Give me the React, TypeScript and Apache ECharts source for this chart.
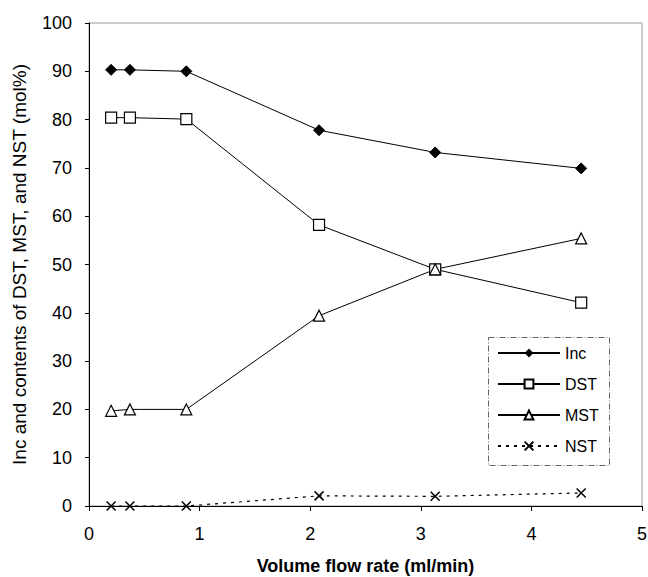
import React, { useEffect, useRef } from "react";
import * as echarts from "echarts";

const flowRates = [0.2, 0.37, 0.88, 2.08, 3.13, 4.45];
const incValues = [90.3, 90.3, 90.0, 77.8, 73.2, 69.9];
const dstValues = [80.4, 80.4, 80.1, 58.2, 49.0, 42.1];
const mstValues = [19.7, 20.0, 20.0, 39.4, 49.0, 55.4];
const nstValues = [0.0, 0.0, 0.0, 2.1, 2.0, 2.7];
const xTicks = { min: 0, max: 5, interval: 1 };
const yTicks = { min: 0, max: 100, interval: 10 };

const FONT = "Arial, 'Liberation Sans', Helvetica, sans-serif";
const X_SYMBOL = "path://M0,0L10,10M10,0L0,10";

function pairs(ys: number[]) {
  return flowRates.map((x, i) => [x, ys[i]]);
}

export default function App() {
  const ref = useRef<HTMLDivElement>(null);
  useEffect(() => {
    if (!ref.current) return;
    const chart = echarts.init(ref.current, undefined, { renderer: "svg" });
    const lineBase = { color: "#000", width: 1 };
    chart.setOption({
      animation: false,
      backgroundColor: "#fff",
      grid: {
        left: 89,
        right: 6,
        top: 23,
        bottom: 71,
        show: true,
        borderColor: "#999",
        borderWidth: 1,
        outerBoundsMode: "none",
        containLabel: false,
      },
      xAxis: {
        type: "value",
        min: xTicks.min,
        max: xTicks.max,
        interval: xTicks.interval,
        name: "Volume flow rate (ml/min)",
        nameLocation: "middle",
        nameGap: 51,
        nameTextStyle: {
          fontFamily: FONT,
          fontSize: 18,
          fontWeight: "bold",
          color: "#000",
        },
        axisLine: { lineStyle: { color: "#000", width: 1 } },
        axisTick: { inside: false, length: 5, lineStyle: { color: "#000" } },
        axisLabel: { fontFamily: FONT, fontSize: 18, color: "#000", margin: 19 },
        splitLine: { show: false },
      },
      yAxis: {
        type: "value",
        min: yTicks.min,
        max: yTicks.max,
        interval: yTicks.interval,
        name: "Inc and contents of DST, MST, and NST (mol%)",
        nameLocation: "middle",
        nameGap: 60,
        nameTextStyle: {
          fontFamily: FONT,
          fontSize: 19,
          color: "#000",
        },
        axisLine: { show: true, lineStyle: { color: "#000", width: 1 } },
        axisTick: { show: true, inside: false, length: 4, lineStyle: { color: "#000" } },
        axisLabel: { fontFamily: FONT, fontSize: 18, color: "#000", margin: 17 },
        splitLine: { show: false },
      },
      legend: {
        orient: "vertical",
        left: 497,
        top: 345,
        itemWidth: 62,
        itemHeight: 11,
        itemGap: 15,
        padding: 0,
        textStyle: { fontFamily: FONT, fontSize: 16, color: "#000", padding: [0, 0, 0, 0] },
        data: ["Inc", "DST", "MST", "NST"],
      },
      graphic: [
        {
          type: "rect",
          shape: { x: 488.5, y: 337.5, width: 121, height: 128 },
          style: { fill: "none", stroke: "#666", lineWidth: 1, lineDash: [6, 2, 1, 2] },
          z: 100,
        },
      ],
      series: [
        {
          name: "Inc",
          type: "line",
          data: pairs(incValues),
          symbol: "diamond",
          symbolSize: 11,
          itemStyle: { color: "#000", borderColor: "#000" },
          lineStyle: lineBase,
        },
        {
          name: "DST",
          type: "line",
          data: pairs(dstValues),
          symbol: "rect",
          symbolSize: 11,
          itemStyle: { color: "#fff", borderColor: "#000", borderWidth: 1.2 },
          lineStyle: lineBase,
        },
        {
          name: "MST",
          type: "line",
          data: pairs(mstValues),
          symbol: "triangle",
          symbolSize: 11,
          itemStyle: { color: "#fff", borderColor: "#000", borderWidth: 1.2 },
          lineStyle: lineBase,
        },
        {
          name: "NST",
          type: "line",
          data: pairs(nstValues),
          symbol: X_SYMBOL,
          symbolSize: 9,
          itemStyle: { color: "none", borderColor: "#000", borderWidth: 1.5 },
          lineStyle: { color: "#000", width: 1.2, type: [3, 5] },
        },
      ],
    });
    return () => chart.dispose();
  }, []);
  return (
    <div
      ref={ref}
      style={{ position: "fixed", left: 0, top: 0, width: 648, height: 577, background: "#fff" }}
    />
  );
}
